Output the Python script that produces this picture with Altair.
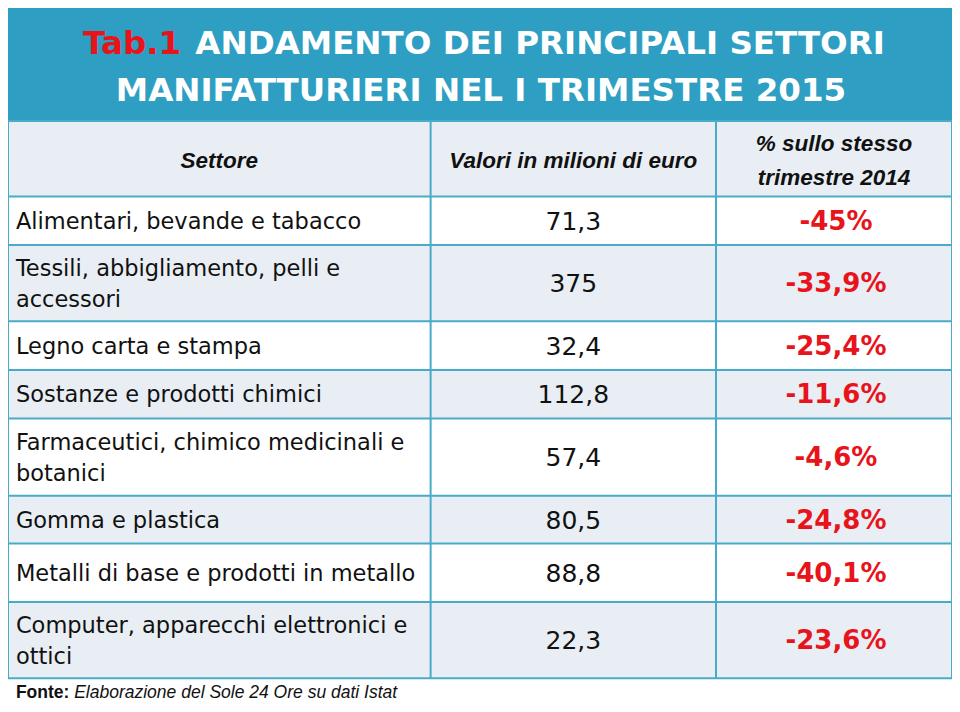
import altair as alt
import pandas as pd

# ---------------- data ----------------
title_red = "Tab.1"
title_line1 = "ANDAMENTO DEI PRINCIPALI SETTORI"
title_line2 = "MANIFATTURIERI NEL I TRIMESTRE 2015"
headers = ["Settore", "Valori in milioni di euro", "% sullo stesso\ntrimestre 2014"]
sectors = [
    "Alimentari, bevande e tabacco",
    "Tessili, abbigliamento, pelli e\naccessori",
    "Legno carta e stampa",
    "Sostanze e prodotti chimici",
    "Farmaceutici, chimico medicinali e\nbotanici",
    "Gomma e plastica",
    "Metalli di base e prodotti in metallo",
    "Computer, apparecchi elettronici e\nottici",
]
values = ["71,3", "375", "32,4", "112,8", "57,4", "80,5", "88,8", "22,3"]
changes = ["-45%", "-33,9%", "-25,4%", "-11,6%", "-4,6%", "-24,8%", "-40,1%", "-23,6%"]
source_bold = "Fonte:"
source_text = "Elaborazione del Sole 24 Ore su dati Istat"

# ---------------- layout (reference pixel space) ----------------
COLS = [2, 430, 719, 958]
TITLE_TOP, TITLE_BOT, HEADER_BOT = 4, 118, 194
ROW_H = [49, 77, 49, 49, 78, 48, 59, 77]
BLUE = "#2e9fc3"
LINE = "#4aabc8"
LIGHT = "#e8eef4"
RED = "#e8141b"
INK = "#111111"
BODY_LH = 31
HDR_LH = 34

row_tops = [HEADER_BOT]
for h in ROW_H:
    row_tops.append(row_tops[-1] + h)


def first_line_y(mid, text, lh):
    n = text.count("\n") + 1
    return mid - (n - 1) * lh / 2


xs = alt.Scale(domain=[2, 958], nice=False, zero=False)
ys = alt.Scale(domain=[4, 706], nice=False, zero=False, reverse=True)
X = alt.X("x:Q", scale=xs, axis=None)
Y = alt.Y("y:Q", scale=ys, axis=None)

# background rects
rects = [dict(x=COLS[0], x2=COLS[3], y=TITLE_TOP, y2=TITLE_BOT, fill=BLUE),
         dict(x=COLS[0], x2=COLS[3], y=TITLE_BOT, y2=HEADER_BOT, fill=LIGHT)]
for i in range(len(sectors)):
    rects.append(dict(x=COLS[0], x2=COLS[3], y=row_tops[i], y2=row_tops[i + 1],
                      fill="#ffffff" if i % 2 == 0 else LIGHT))
rect_layer = alt.Chart(pd.DataFrame(rects)).mark_rect().encode(
    x=X, x2="x2:Q", y=Y, y2="y2:Q", color=alt.Color("fill:N", scale=None))

# grid lines
lines = [dict(x=COLS[0], x2=COLS[3], y=yv, y2=yv) for yv in [TITLE_BOT] + row_tops]
lines += [dict(x=c, x2=c, y=TITLE_BOT, y2=row_tops[-1]) for c in COLS]
line_layer = alt.Chart(pd.DataFrame(lines)).mark_rule(color=LINE, strokeWidth=2).encode(
    x=X, x2="x2:Q", y=Y, y2="y2:Q")

# title
t_red = alt.Chart(pd.DataFrame([dict(x=78, y=40, t=title_red)])).mark_text(
    align="left", baseline="middle", font="DejaVu Sans", fontWeight="bold",
    fontSize=32.5, color=RED).encode(x=X, y=Y, text="t:N")
t_l1 = alt.Chart(pd.DataFrame([dict(x=890, y=40, t=title_line1)])).mark_text(
    align="right", baseline="middle", font="DejaVu Sans", fontWeight="bold",
    fontSize=32.5, color="white").encode(x=X, y=Y, text="t:N")
t_l2 = alt.Chart(pd.DataFrame([dict(x=481, y=88, t=title_line2)])).mark_text(
    align="center", baseline="middle", font="DejaVu Sans", fontWeight="bold",
    fontSize=32.5, color="white").encode(x=X, y=Y, text="t:N")

# headers
hdr_y = (TITLE_BOT + HEADER_BOT) / 2 + 2
hdr = pd.DataFrame([dict(x=(COLS[i] + COLS[i + 1]) / 2,
                         y=first_line_y(hdr_y, headers[i], HDR_LH), t=headers[i])
                    for i in range(3)])
hdr_layer = alt.Chart(hdr).mark_text(
    align="center", baseline="middle", font="Liberation Sans", fontWeight="bold",
    fontStyle="italic", fontSize=22.5, color=INK, lineBreak="\n", lineHeight=HDR_LH).encode(
    x=X, y=Y, text="t:N")

# body
mids = [(row_tops[i] + row_tops[i + 1]) / 2 + 1 for i in range(len(sectors))]
sec_df = pd.DataFrame(dict(x=[10] * len(sectors),
                           y=[first_line_y(m, s, BODY_LH) for m, s in zip(mids, sectors)],
                           t=sectors))
sec_layer = alt.Chart(sec_df).mark_text(
    align="left", baseline="middle", font="DejaVu Sans", fontSize=22.5, color=INK,
    lineBreak="\n", lineHeight=BODY_LH).encode(x=X, y=Y, text="t:N")

val_df = pd.DataFrame(dict(x=[(COLS[1] + COLS[2]) / 2] * len(values), y=mids, t=values))
val_layer = alt.Chart(val_df).mark_text(
    align="center", baseline="middle", font="DejaVu Sans", fontSize=25, color=INK).encode(
    x=X, y=Y, text="t:N")

chg_df = pd.DataFrame(dict(x=[(COLS[2] + COLS[3]) / 2 + 2] * len(changes), y=mids, t=changes))
chg_layer = alt.Chart(chg_df).mark_text(
    align="center", baseline="middle", font="DejaVu Sans", fontWeight="bold",
    fontSize=26, color=RED).encode(x=X, y=Y, text="t:N")

# footnote
f1 = alt.Chart(pd.DataFrame([dict(x=10, y=695, t=source_bold)])).mark_text(
    align="left", baseline="middle", font="Liberation Sans", fontWeight="bold",
    fontSize=17.5, color=INK).encode(x=X, y=Y, text="t:N")
f2 = alt.Chart(pd.DataFrame([dict(x=69, y=695, t=source_text)])).mark_text(
    align="left", baseline="middle", font="Liberation Sans", fontStyle="italic",
    fontSize=17.5, color=INK).encode(x=X, y=Y, text="t:N")

chart = alt.layer(rect_layer, line_layer, t_red, t_l1, t_l2, hdr_layer,
                  sec_layer, val_layer, chg_layer, f1, f2).properties(
    width=944, height=696, padding=0, autosize="none", background="white"
).configure_view(stroke=None)

chart.save("out.html", embed_options={"renderer": "svg", "actions": False})
